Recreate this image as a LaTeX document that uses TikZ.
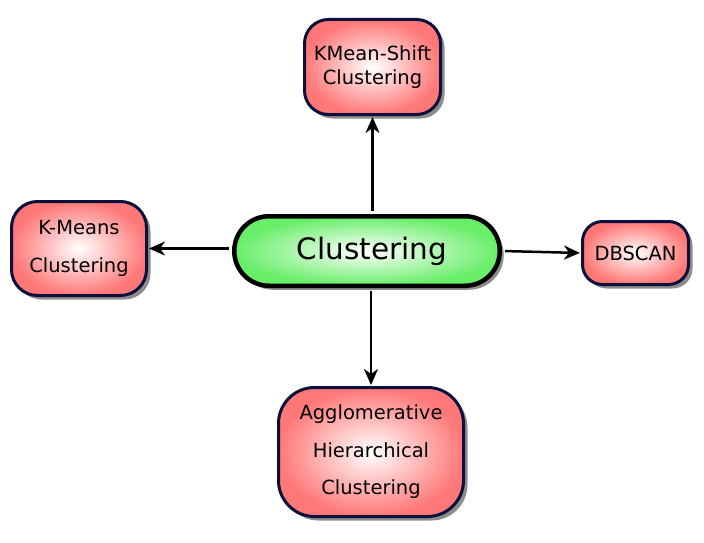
\documentclass[tikz,border=0pt]{standalone}
\usepackage{fontspec}
\setmainfont{DejaVu Sans}
\usetikzlibrary{shapes.misc,shadows,arrows.meta}
\definecolor{pinkout}{RGB}{255,120,120}
\definecolor{greenout}{RGB}{105,238,105}
\definecolor{navy}{RGB}{10,15,60}
\tikzset{
  leaf/.style={draw=navy, line width=3pt, shading=radial, inner color=white, outer color=pinkout,
    drop shadow={shadow xshift=4pt, shadow yshift=-4pt, fill=black, opacity=0.45},
    align=center, inner sep=0pt, font=\fontsize{19.5}{24}\selectfont},
  hub/.style={rounded rectangle, draw=black, line width=4.5pt, shading=radial, inner color=white, outer color=greenout,
    drop shadow={shadow xshift=4pt, shadow yshift=-4pt, fill=black, opacity=0.45},
    minimum width=265.5pt, minimum height=69.5pt, inner sep=0pt, font=\fontsize{29.5}{35}\selectfont},
  link/.style={line width=2.5pt, -{Stealth[length=16pt,width=14pt,inset=5pt]}, shorten <=3pt, shorten >=1pt}
}
\begin{document}
\begin{tikzpicture}[x=1pt,y=1pt]
\useasboundingbox (0,0) rectangle (704,-543);
\node[hub] (c) at (367,-251) {\hspace{10pt}Clustering};
\node[leaf, rounded corners=24pt, minimum width=136pt, minimum height=95pt] (kms) at (372.5,-67)
  {KMean-Shift\\Clustering};
\node[leaf, rounded corners=26pt, minimum width=135pt, minimum height=94pt,
  font=\fontsize{19.5}{38}\selectfont] (km) at (79,-248.5) {K-Means\\Clustering};
\node[leaf, rounded corners=20pt, minimum width=106pt, minimum height=63pt] (db) at (635.5,-253) {DBSCAN};
\node[leaf, rounded corners=36pt, minimum width=185pt, minimum height=129pt,
  font=\fontsize{19.5}{37.5}\selectfont] (agg) at (371,-452) {Agglomerative\\Hierarchical\\Clustering};
\draw[link] (kms.south |- c.north) -- (kms.south);
\draw[link] (agg.north |- c.south) -- (agg.north);
\draw[link] (c.west |- km.east) -- (km.east);
\draw[link] (c.east) -- (db.west);
\end{tikzpicture}
\end{document}
